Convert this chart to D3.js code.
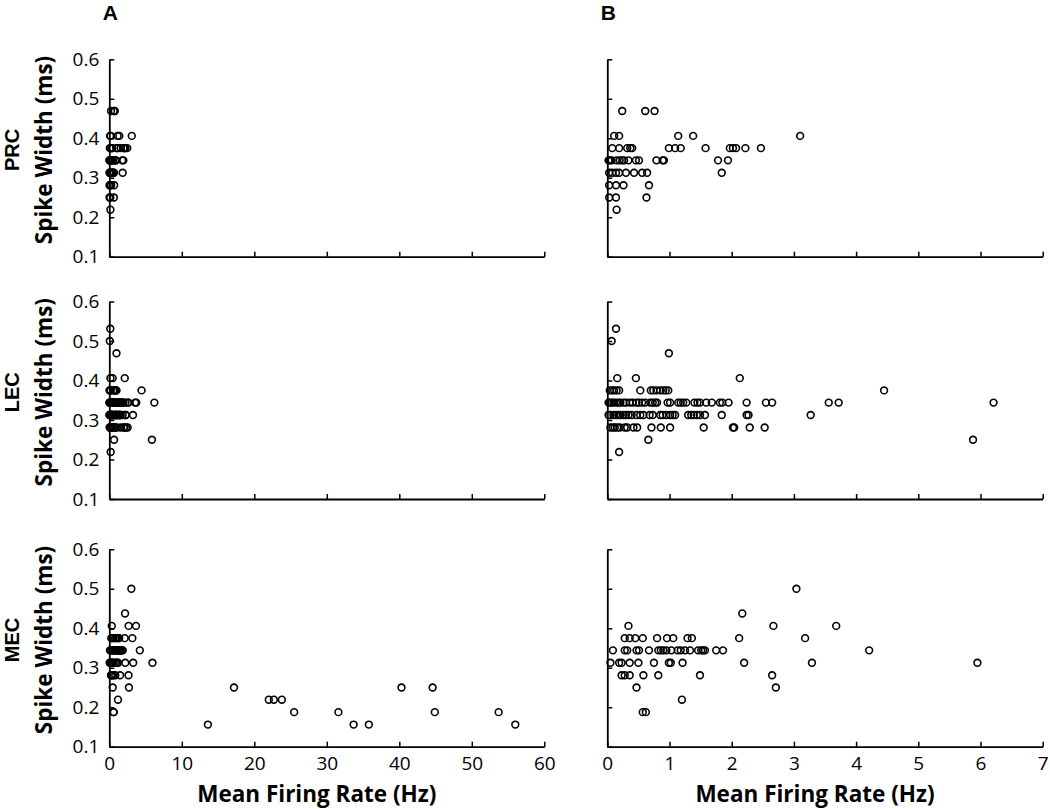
<!DOCTYPE html>
<html><head><meta charset="utf-8">
<script src="https://cdn.jsdelivr.net/npm/d3@7"></script>
<style>body{margin:0;background:#fff}svg{display:block}</style>
</head><body>
<svg id="c" width="1050" height="809"></svg>
<script>
const regions = ["PRC", "LEC", "MEC"];
const columnLetters = ["A", "B"];
const yTicks = [0.1, 0.2, 0.3, 0.4, 0.5, 0.6];
const xTicksA = [0, 10, 20, 30, 40, 50, 60];
const xTicksB = [0, 1, 2, 3, 4, 5, 6, 7];
const yLabel = "Spike Width (ms)";
const xLabel = "Mean Firing Rate (Hz)";

// [mean firing rate (Hz), spike width (ms)]
const prcPoints = [
  [0.24,0.469],[0.61,0.469],[0.76,0.469],
  [0.11,0.406],[0.19,0.406],[1.14,0.406],[1.38,0.406],[3.10,0.406],
  [0.08,0.375],[0.19,0.375],[0.32,0.375],[0.37,0.375],[0.40,0.375],[0.99,0.375],[1.09,0.375],[1.18,0.375],[1.58,0.375],[1.97,0.375],[2.02,0.375],[2.07,0.375],[2.22,0.375],[2.47,0.375],
  [0.02,0.344],[0.04,0.344],[0.07,0.344],[0.15,0.344],[0.20,0.344],[0.24,0.344],[0.27,0.344],[0.34,0.344],[0.46,0.344],[0.51,0.344],[0.79,0.344],[0.89,0.344],[0.91,0.344],[1.78,0.344],[1.94,0.344],
  [0.03,0.3125],[0.08,0.3125],[0.14,0.3125],[0.19,0.3125],[0.30,0.3125],[0.43,0.3125],[0.56,0.3125],[0.64,0.3125],[1.84,0.3125],
  [0.03,0.281],[0.14,0.281],[0.26,0.281],[0.67,0.281],
  [0.03,0.25],[0.14,0.25],[0.63,0.25],
  [0.15,0.219]
];
const lecPoints = [
  [0.14,0.531],[0.07,0.5],[0.99,0.469],
  [0.16,0.406],[0.46,0.406],[2.13,0.406],
  [0.04,0.375],[0.08,0.375],[0.11,0.375],[0.15,0.375],[0.19,0.375],[0.53,0.375],[0.70,0.375],[0.74,0.375],[0.79,0.375],[0.85,0.375],[0.90,0.375],[0.94,0.375],[0.98,0.375],[4.45,0.375],
  [0.02,0.344],[0.04,0.344],[0.07,0.344],[0.10,0.344],[0.14,0.344],[0.18,0.344],[0.21,0.344],[0.26,0.344],[0.30,0.344],[0.36,0.344],[0.41,0.344],[0.47,0.344],[0.51,0.344],[0.56,0.344],[0.61,0.344],[0.69,0.344],[0.73,0.344],[0.77,0.344],[0.80,0.344],[0.97,0.344],[1.01,0.344],[1.14,0.344],[1.18,0.344],[1.22,0.344],[1.27,0.344],[1.40,0.344],[1.45,0.344],[1.49,0.344],[1.59,0.344],[1.68,0.344],[1.81,0.344],[1.85,0.344],[1.95,0.344],[2.24,0.344],[2.55,0.344],[2.65,0.344],[3.56,0.344],[3.72,0.344],[6.21,0.344],
  [0.02,0.3125],[0.05,0.3125],[0.10,0.3125],[0.14,0.3125],[0.18,0.3125],[0.21,0.3125],[0.26,0.3125],[0.30,0.3125],[0.34,0.3125],[0.39,0.3125],[0.47,0.3125],[0.53,0.3125],[0.58,0.3125],[0.68,0.3125],[0.73,0.3125],[0.85,0.3125],[0.89,0.3125],[0.95,0.3125],[1.01,0.3125],[1.05,0.3125],[1.09,0.3125],[1.30,0.3125],[1.35,0.3125],[1.39,0.3125],[1.44,0.3125],[1.49,0.3125],[1.57,0.3125],[1.84,0.3125],[2.24,0.3125],[2.27,0.3125],[3.27,0.3125],
  [0.05,0.281],[0.09,0.281],[0.12,0.281],[0.16,0.281],[0.20,0.281],[0.28,0.281],[0.32,0.281],[0.42,0.281],[0.48,0.281],[0.71,0.281],[0.86,0.281],[1.01,0.281],[1.55,0.281],[2.02,0.281],[2.04,0.281],[2.29,0.281],[2.53,0.281],
  [0.66,0.25],[5.88,0.25],
  [0.19,0.219]
];
const mecPoints = [
  [3.04,0.5],[2.17,0.4375],
  [0.34,0.406],[2.67,0.406],[3.68,0.406],
  [0.28,0.375],[0.36,0.375],[0.45,0.375],[0.57,0.375],[0.80,0.375],[0.96,0.375],[1.06,0.375],[1.29,0.375],[1.36,0.375],[2.12,0.375],[3.18,0.375],
  [0.09,0.344],[0.28,0.344],[0.32,0.344],[0.47,0.344],[0.51,0.344],[0.67,0.344],[0.82,0.344],[0.86,0.344],[0.90,0.344],[0.95,0.344],[1.03,0.344],[1.13,0.344],[1.18,0.344],[1.25,0.344],[1.33,0.344],[1.46,0.344],[1.51,0.344],[1.54,0.344],[1.57,0.344],[1.75,0.344],[1.86,0.344],[4.21,0.344],
  [0.05,0.3125],[0.19,0.3125],[0.23,0.3125],[0.36,0.3125],[0.50,0.3125],[0.75,0.3125],[0.99,0.3125],[1.02,0.3125],[1.21,0.3125],[2.20,0.3125],[3.29,0.3125],[5.95,0.3125],
  [0.23,0.281],[0.28,0.281],[0.36,0.281],[0.58,0.281],[0.82,0.281],[1.49,0.281],[2.65,0.281],
  [0.47,0.25],[2.71,0.25],[17.2,0.25],[40.3,0.25],[44.6,0.25],
  [1.20,0.219],[22.0,0.219],[22.7,0.219],[23.8,0.219],
  [0.57,0.1875],[0.62,0.1875],[25.5,0.1875],[31.6,0.1875],[44.9,0.1875],[53.7,0.1875],
  [13.6,0.156],[33.7,0.156],[35.8,0.156],[56.0,0.156]
];
const regionData = [prcPoints, lecPoints, mecPoints];

const svg = d3.select("#c");
const FONT = "'Open Sans', 'Noto Sans', sans-serif";
const FONT2 = "'Liberation Sans', Arial, sans-serif";
const cols = [
  {x0: 109.3, x1: 544.3, domain: [0, 60], ticks: xTicksA},
  {x0: 607.3, x1: 1042.7, domain: [0, 7], ticks: xTicksB}
];
const rows = [{t: 59.3, b: 256.7}, {t: 301.5, b: 499}, {t: 549.3, b: 746.7}];

rows.forEach((row, ri) => {
  const y = d3.scaleLinear().domain([0.1, 0.6]).range([row.b, row.t]);
  cols.forEach((col, ci) => {
    const x = d3.scaleLinear().domain(col.domain).range([col.x0, col.x1]);
    const g = svg.append("g");
    const ya = d3.axisLeft(y).tickValues(yTicks).tickSizeInner(-5).tickSizeOuter(0).tickPadding(10)
      .tickFormat(ci === 0 ? d3.format(".1f") : () => "");
    const yg = g.append("g").attr("transform", `translate(${col.x0},0)`).call(ya);
    const xa = d3.axisBottom(x).tickValues(col.ticks).tickSizeInner(-5).tickSizeOuter(0).tickPadding(10)
      .tickFormat(ri === 2 ? d3.format("d") : () => "");
    const xg = g.append("g").attr("transform", `translate(0,${row.b})`).call(xa);
    [yg, xg].forEach(a => {
      a.select(".domain").attr("stroke", "#000").attr("stroke-width", 1.8);
      a.selectAll(".tick line").attr("stroke", "#000").attr("stroke-width", 1.5);
      a.selectAll(".tick text").attr("fill", "#000").style("font-family", FONT).style("font-size", "19px");
    });
    const pts = regionData[ri].filter(d => d[0] >= col.domain[0] && d[0] <= col.domain[1]);
    g.append("g").selectAll("circle").data(pts).join("circle")
      .attr("cx", d => x(d[0])).attr("cy", d => y(d[1])).attr("r", 3.4)
      .attr("fill", "none").attr("stroke", "#000").attr("stroke-width", 1.6);
    if (ri === 2) {
      svg.append("text").attr("x", (col.x0 + col.x1) / 2 - 10).attr("y", 802)
        .attr("text-anchor", "middle").style("font-family", FONT).style("font-weight", "bold")
        .style("font-size", "22.5px").text(xLabel);
    }
    if (ri === 0) {
      svg.append("text").attr("x", col.x0 + 1).attr("y", 20).attr("text-anchor", "middle")
        .style("font-family", FONT2).style("font-weight", "bold").style("font-size", "21px")
        .text(columnLetters[ci]);
    }
  });
  const cy = (row.t + row.b) / 2 - 8;
  svg.append("text").attr("transform", `translate(19,${cy}) rotate(-90)`).attr("text-anchor", "middle")
    .style("font-family", FONT2).style("font-weight", "bold").style("font-size", "20px").text(regions[ri]);
  svg.append("text").attr("transform", `translate(52,${cy}) rotate(-90)`).attr("text-anchor", "middle")
    .style("font-family", FONT).style("font-weight", "bold").style("font-size", "22.5px").text(yLabel);
});
</script>
</body></html>
